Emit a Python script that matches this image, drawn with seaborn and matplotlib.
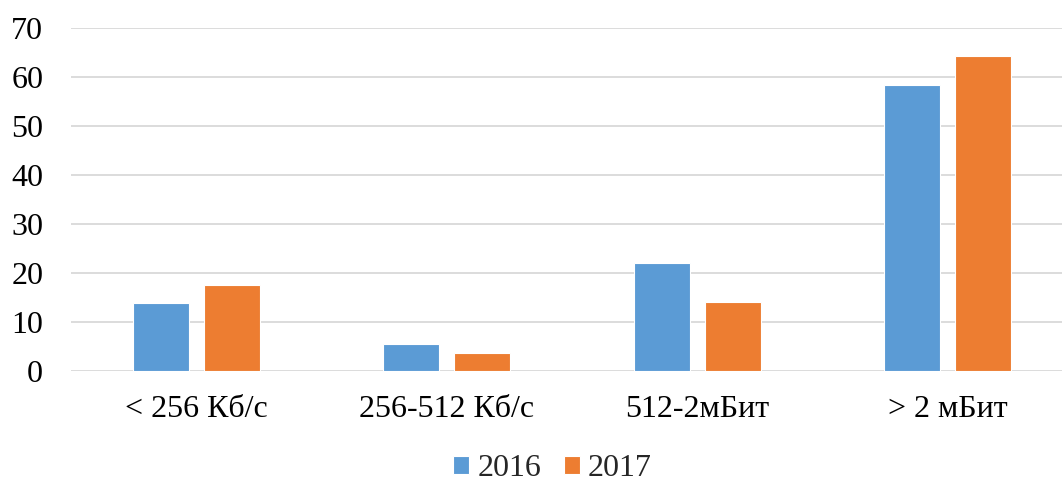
import pandas as pd
import matplotlib
matplotlib.use("Agg")
import matplotlib.pyplot as plt
import seaborn as sns

categories = ["< 256 Кб/с", "256-512 Кб/с", "512-2мБит", "> 2 мБит"]
years = ["2016", "2017"]
values_2016 = [13.8, 5.4, 22.1, 58.5]
values_2017 = [17.6, 3.6, 14.1, 64.4]
colors = ["#5B9BD5", "#ED7D31"]

df = pd.DataFrame({
    "category": categories * 2,
    "year": [years[0]] * 4 + [years[1]] * 4,
    "value": values_2016 + values_2017,
})

sns.set_theme(style="white")
plt.rcParams["font.family"] = ["Liberation Serif", "DejaVu Serif"]

W, H = 1062, 479
fig = plt.figure(figsize=(W / 100, H / 100), dpi=100)
# axes intentionally runs a bit past the right edge, like the cropped original
ax = fig.add_axes([71 / W, (H - 370.7) / H, 1001.7 / W, 342.3 / H])

sns.barplot(data=df, x="category", y="value", hue="year", palette=colors,
            width=0.567, gap=0.21, edgecolor="white", linewidth=0.8,
            saturation=1, ax=ax, zorder=3)

ax.set_xlim(-0.5, 3.5)
ax.set_ylim(0, 70)
ax.set_yticks(range(0, 71, 10))
ax.grid(axis="y", color="#d9d9d9", linewidth=1.3, zorder=0)
ax.set_axisbelow(True)
for s in ax.spines.values():
    s.set_visible(False)
ax.tick_params(axis="both", length=0, labelsize=23, colors="black")
ax.tick_params(axis="y", pad=20)
ax.tick_params(axis="x", pad=17.5)
ax.set_xlabel("")
ax.set_ylabel("")

handles, labels = ax.get_legend_handles_labels()
ax.legend_.remove()
fig.legend(handles, labels, loc="center", bbox_to_anchor=(552.5 / W, (H - 469) / H),
           ncol=2, frameon=False, fontsize=23, handlelength=0.5, handleheight=0.5,
           handletextpad=0.25, columnspacing=0.7)

fig.savefig("out.png", dpi=100)
